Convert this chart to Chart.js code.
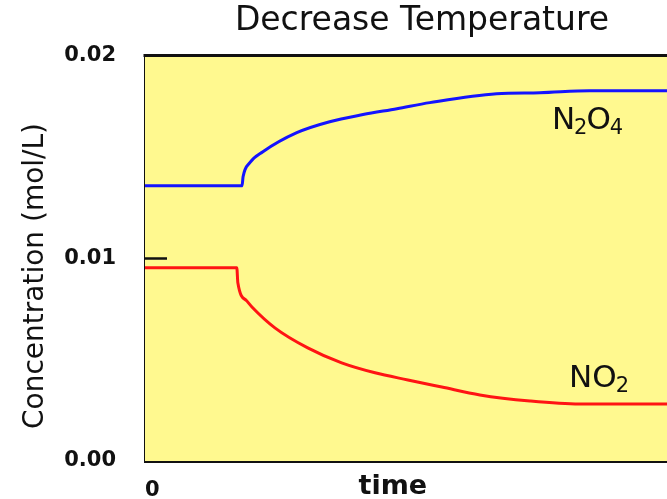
<!DOCTYPE html>
<html>
<head>
<meta charset="utf-8">
<script src="https://cdn.jsdelivr.net/npm/chart.js@4/dist/chart.umd.min.js"></script>
<style>
  html, body { margin: 0; padding: 0; background: #fff; }
  /* the source picture is cropped on the right, so the canvas runs past the window */
  #wrap { width: 667px; height: 499px; overflow: hidden; }
</style>
</head>
<body>
<div id="wrap"><canvas id="chart" width="850" height="499"></canvas></div>
<script>
// time axis: arbitrary units, 0 at the left edge of the plot
const n2o4Time = [0, 18.6, 18.8, 20.1, 22.6, 29.1, 35.4, 41.8, 48.3, 54.6, 67.4, 75.7, 85.2, 100, 134];
const n2o4Conc = [0.01358, 0.01358, 0.01402, 0.01472, 0.01526, 0.01620, 0.01674, 0.01709, 0.01738, 0.01768, 0.01812, 0.01817, 0.01827, 0.01827, 0.01827];

const no2Time = [0, 17.6, 17.8, 19.5, 20.5, 24.9, 31.2, 37.7, 44.1, 50.4, 56.9, 64.2, 73.8, 83.3, 100, 134];
const no2Conc = [0.00953, 0.00953, 0.00879, 0.00790, 0.00760, 0.00657, 0.00558, 0.00484, 0.00435, 0.00400, 0.00365, 0.00326, 0.00296, 0.00281, 0.00281, 0.00281];

const yTicks = [0, 0.01, 0.02];
const xTicks = [0];

const FONT = '"DejaVu Sans", Verdana, sans-serif';
const toPoints = (xs, ys) => xs.map((x, i) => ({ x: x, y: ys[i] }));

// yellow plot area, top border, the single inward tick at 0.01, axis names and formula labels
const plotDecor = {
    id: 'plotDecor',
    beforeDatasetsDraw(chart) {
        const { ctx, chartArea: a } = chart;
        ctx.save();
        ctx.fillStyle = '#fff98f';
        ctx.fillRect(a.left, a.top, a.right - a.left, a.bottom - a.top);
        ctx.restore();
    },
    afterDraw(chart) {
        const { ctx, chartArea: a } = chart;
        const x = chart.scales.x;
        const y = chart.scales.y;
        ctx.save();
        ctx.strokeStyle = '#111';
        ctx.lineWidth = 3;
        ctx.beginPath();
        ctx.moveTo(a.left - 1.5, a.top);
        ctx.lineTo(a.right, a.top);
        ctx.stroke();

        const py = Math.round(y.getPixelForValue(0.01)) + 0.5;
        ctx.lineWidth = 2.5;
        ctx.beginPath();
        ctx.moveTo(a.left, py);
        ctx.lineTo(a.left + 22, py);
        ctx.stroke();

        // axis names are off-centre in the source, so they are placed by hand
        ctx.fillStyle = '#111';
        ctx.font = 'bold 27px ' + FONT;
        ctx.textAlign = 'center';
        ctx.textBaseline = 'alphabetic';
        ctx.fillText('time', x.getPixelForValue(47.5), 494);

        ctx.save();
        ctx.translate(36, 276);
        ctx.rotate(-Math.PI / 2);
        ctx.font = '28px ' + FONT;
        ctx.textBaseline = 'middle';
        ctx.fillText('Concentration (mol/L)', 0, 0);
        ctx.restore();

        drawFormula(ctx, [['N', 0], ['2', 1], ['O', 0], ['4', 1]], x.getPixelForValue(78.0), y.getPixelForValue(0.0168));
        drawFormula(ctx, [['NO', 0], ['2', 1]], x.getPixelForValue(81.3), y.getPixelForValue(0.00405));
        ctx.restore();
    }
};

function drawFormula(ctx, parts, x, y) {
    ctx.fillStyle = '#111';
    ctx.textBaseline = 'middle';
    ctx.textAlign = 'left';
    parts.forEach(([txt, sub]) => {
        ctx.font = (sub ? '21px ' : '31px ') + FONT;
        ctx.fillText(txt, x, sub ? y + 8 : y);
        x += ctx.measureText(txt).width - 1;
    });
}

new Chart(document.getElementById('chart'), {
    type: 'line',
    data: {
        datasets: [
            {
                label: 'N2O4',
                data: toPoints(n2o4Time, n2o4Conc),
                borderColor: '#1414ff',
                borderWidth: 3,
                pointRadius: 0,
                cubicInterpolationMode: 'monotone',
                fill: false
            },
            {
                label: 'NO2',
                data: toPoints(no2Time, no2Conc),
                borderColor: '#ff1414',
                borderWidth: 3,
                pointRadius: 0,
                cubicInterpolationMode: 'monotone',
                fill: false
            }
        ]
    },
    options: {
        responsive: false,
        animation: false,
        layout: { padding: { left: 0, right: 6, top: 0, bottom: 0 } },
        plugins: {
            legend: { display: false },
            tooltip: { enabled: false },
            title: {
                display: true,
                text: 'Decrease Temperature',
                color: '#111',
                font: { family: FONT, size: 33, weight: 'normal', lineHeight: 1.2 },
                padding: { top: 2, bottom: 14 }
            }
        },
        scales: {
            x: {
                type: 'linear',
                min: 0,
                max: 134,
                afterFit: (s) => { s.height = 38; },
                afterBuildTicks: (s) => { s.ticks = xTicks.map(v => ({ value: v })); },
                ticks: {
                    color: '#111',
                    padding: 9,
                    align: 'start',
                    autoSkip: false,
                    maxRotation: 0,
                    font: { family: FONT, size: 21, weight: 'bold' },
                    callback: (v) => String(v)
                },
                grid: { display: false },
                border: { display: true, color: '#111', width: 3 }
            },
            y: {
                min: 0,
                max: 0.02,
                afterFit: (s) => { s.width = 145; },
                afterBuildTicks: (s) => { s.ticks = yTicks.map(v => ({ value: v })); },
                ticks: {
                    color: '#111',
                    padding: 21,
                    font: { family: FONT, size: 21, weight: 'bold' },
                    callback: (v) => v.toFixed(2)
                },
                grid: { display: false },
                border: { display: true, color: '#111', width: 3 }
            }
        }
    },
    plugins: [plotDecor]
});
</script>
</body>
</html>
